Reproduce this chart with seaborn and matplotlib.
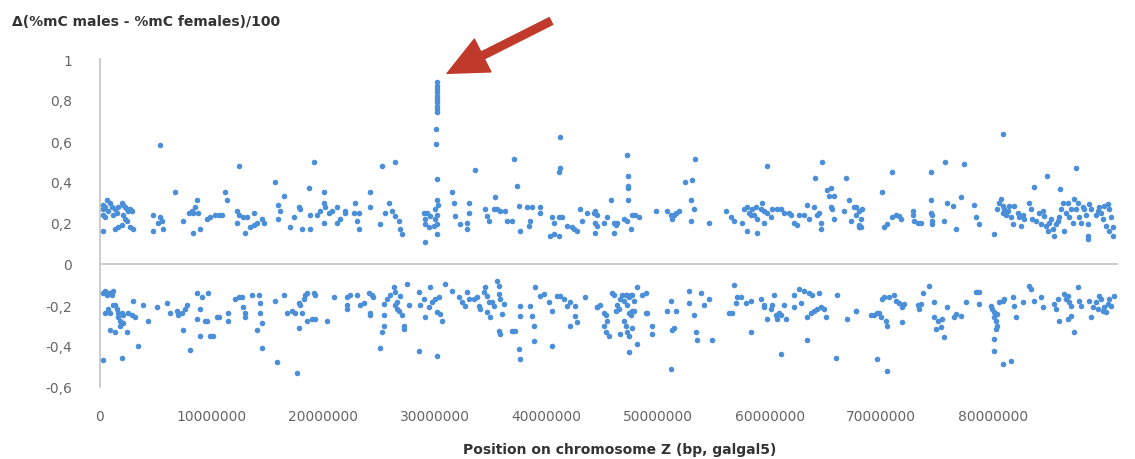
import numpy as np
import pandas as pd
import matplotlib
matplotlib.use("Agg")
import matplotlib.pyplot as plt
import seaborn as sns

# positions in Mb (converted to bp below) and delta methylation (males - females)/100
# hypermethylated in males
pos_up = [
    0.31, 0.31, 0.45, 0.61, 0.31, 0.45, 0.75, 0.90, 1.05, 1.20, 1.35, 1.50, 1.65, 1.95, 2.09, 2.25,
    2.40, 2.54, 2.70, 2.09, 2.25, 2.40, 0.31, 1.35, 1.65, 1.95, 2.70, 3.00, 2.84, 4.79, 4.79, 5.39,
    5.54, 5.23, 5.68, 5.39, 6.73, 7.48, 7.93, 8.23, 8.37, 8.67, 8.82, 8.52, 8.37, 8.98, 9.57, 9.87,
    10.32, 10.62, 10.91, 11.21, 11.37, 12.26, 12.41, 12.26, 12.41, 12.85, 13.16, 13.76, 13.01, 13.46,
    13.76, 14.05, 14.50, 14.65, 15.69, 15.99, 16.15, 15.99, 16.44, 17.04, 17.35, 17.79, 17.94, 18.08,
    18.69, 18.83, 18.83, 19.13, 19.44, 19.74, 20.03, 20.03, 20.03, 20.18, 20.48, 20.78, 21.22, 21.22,
    21.53, 21.97,
    30.19, 30.19, 30.19, 30.19, 30.19, 30.19, 30.19, 30.19, 30.19, 30.19, 30.13, 30.13, 30.19, 30.19,
    30.24, 30.03, 30.19, 30.03, 30.19, 30.19, 29.29, 29.00, 29.14, 29.14, 29.44, 29.14, 29.59, 29.89,
    21.97, 22.72, 22.86, 23.16, 23.02, 23.16, 24.21, 24.21, 25.25, 26.45, 25.11, 25.55, 25.86, 26.16,
    26.45, 26.75, 26.90, 27.05, 31.53, 31.68, 31.83, 32.28, 33.03, 33.03, 32.87, 32.87, 33.62, 34.53,
    34.67, 34.82, 35.26, 35.42, 35.57, 35.87, 36.31, 36.46, 36.92, 37.06, 37.36, 37.51, 37.66, 38.26,
    38.40, 38.56, 38.71, 39.45, 39.45, 40.49, 40.65, 40.65, 40.35, 41.10, 41.10, 41.40, 41.85, 42.29,
    42.44, 42.74, 43.04, 43.19, 43.63, 44.38, 44.54, 41.24, 41.24, 41.10,
    44.24, 44.39, 44.39, 44.54, 45.14, 45.44, 45.74, 46.03, 46.19, 46.03, 46.33, 46.93, 47.23, 47.53,
    47.68, 47.97, 48.28, 47.23, 47.29, 47.29, 47.29, 47.29, 49.77, 50.81, 51.11, 51.27, 51.42, 51.56,
    51.86, 52.45, 53.06, 53.29, 52.91, 53.20, 52.91, 54.55, 56.04, 56.50, 56.79, 57.54, 57.69, 57.99,
    58.14, 58.29, 58.43, 58.59, 58.73, 58.89, 59.18, 59.34, 59.48, 59.48, 59.78, 60.09, 60.23, 60.68,
    60.98, 61.28, 61.73, 61.87, 62.18, 62.48, 62.62, 63.07, 63.37, 63.52, 63.96, 64.27, 64.41, 64.57,
    64.57, 57.99, 58.89, 59.78, 64.03, 64.71, 65.16, 65.32, 65.46, 65.46, 65.62, 65.76, 66.66, 66.80,
    67.10, 67.26, 67.71, 68.01, 65.76,
    67.55, 67.71, 68.01, 68.30, 68.15, 68.01, 68.15, 70.10, 70.24, 70.55, 70.99, 71.29, 71.60, 71.74,
    72.79, 72.79, 72.94, 73.24, 73.53, 70.99, 74.43, 74.43, 74.43, 74.58, 74.58, 74.58, 75.63, 75.71,
    75.92, 76.38, 76.67, 77.12, 77.42, 78.31, 78.47, 78.77, 80.11, 80.40, 80.56, 80.70, 80.86, 80.86,
    81.00, 81.15, 81.31, 81.45, 81.61, 81.75, 81.90, 82.20, 82.36, 82.50, 82.65, 82.80, 83.25, 83.40,
    83.54, 83.70, 83.84, 84.14, 84.29, 84.45, 84.59, 84.75, 84.89, 85.04, 85.19, 85.34, 85.49, 85.64,
    85.79, 85.93, 86.09, 86.23, 86.39, 86.54, 86.68, 86.84, 86.98, 87.13, 87.28, 87.43, 87.59, 87.73,
    87.88, 88.03, 88.18, 88.32, 88.48, 88.48, 88.48, 88.63, 88.78, 89.23, 89.37, 89.52, 89.67, 89.82,
    89.98, 90.12, 90.27, 90.42, 90.42, 90.57, 90.72, 90.72, 80.86, 84.83, 86.02, 87.43,
]
delta_up = [
    0.27, 0.29, 0.28, 0.31, 0.24, 0.23, 0.26, 0.30, 0.28, 0.24, 0.27, 0.25, 0.28, 0.30, 0.29, 0.28,
    0.27, 0.26, 0.27, 0.24, 0.22, 0.21, 0.16, 0.17, 0.18, 0.19, 0.18, 0.17, 0.26, 0.16, 0.24, 0.23,
    0.21, 0.20, 0.17, 0.58, 0.35, 0.21, 0.25, 0.26, 0.25, 0.31, 0.25, 0.28, 0.15, 0.17, 0.22, 0.23,
    0.24, 0.24, 0.24, 0.35, 0.31, 0.26, 0.48, 0.20, 0.24, 0.23, 0.23, 0.25, 0.15, 0.18,
    0.19, 0.20, 0.22, 0.20, 0.40, 0.29, 0.26, 0.22, 0.33, 0.18, 0.23, 0.28, 0.27, 0.17,
    0.37, 0.17, 0.24, 0.50, 0.24, 0.26, 0.20, 0.35, 0.30, 0.28, 0.25, 0.26, 0.28, 0.20,
    0.22, 0.26,
    0.886, 0.870, 0.854, 0.837, 0.821, 0.805, 0.789, 0.772, 0.756, 0.740, 0.66, 0.585, 0.415, 0.31,
    0.29, 0.27, 0.24, 0.22, 0.195, 0.146, 0.25, 0.25, 0.22, 0.195, 0.18, 0.106, 0.236, 0.187,
    0.25, 0.25, 0.30, 0.25, 0.21, 0.17, 0.35, 0.28, 0.48, 0.50, 0.195, 0.25, 0.30, 0.26,
    0.236, 0.21, 0.17, 0.146, 0.35, 0.30, 0.236, 0.195, 0.30, 0.25, 0.20, 0.17, 0.46, 0.27,
    0.236, 0.21, 0.27, 0.325, 0.27, 0.26, 0.26, 0.21, 0.21, 0.51, 0.38, 0.285, 0.163, 0.276,
    0.187, 0.21, 0.276, 0.276, 0.25, 0.228, 0.20, 0.146, 0.138, 0.138, 0.228, 0.228, 0.187, 0.18,
    0.17, 0.163, 0.27, 0.21, 0.25, 0.26, 0.187, 0.62, 0.47, 0.45,
    0.25, 0.20, 0.15, 0.24, 0.20, 0.23, 0.31, 0.20, 0.19, 0.15, 0.20, 0.22, 0.21, 0.17,
    0.24, 0.24, 0.23, 0.53, 0.43, 0.38, 0.37, 0.31, 0.26, 0.26, 0.24, 0.22, 0.24, 0.25,
    0.26, 0.40, 0.41, 0.51, 0.31, 0.27, 0.21, 0.20, 0.26, 0.23, 0.21, 0.20, 0.27, 0.28,
    0.25, 0.24, 0.27, 0.24, 0.28, 0.22, 0.27, 0.30, 0.26, 0.20, 0.25, 0.23, 0.27, 0.27,
    0.27, 0.25, 0.25, 0.24, 0.20, 0.19, 0.24, 0.24, 0.29, 0.22, 0.28, 0.24, 0.25, 0.20,
    0.17, 0.16, 0.15, 0.48, 0.42, 0.50, 0.36, 0.33, 0.37, 0.28, 0.27, 0.22, 0.26, 0.42,
    0.31, 0.21, 0.28, 0.18, 0.33,
    0.28, 0.24, 0.26, 0.27, 0.22, 0.19, 0.18, 0.35, 0.18, 0.195, 0.23, 0.24, 0.236, 0.22,
    0.26, 0.24, 0.21, 0.20, 0.20, 0.45, 0.45, 0.31, 0.25, 0.24, 0.21, 0.195, 0.21, 0.50,
    0.30, 0.285, 0.17, 0.325, 0.49, 0.29, 0.23, 0.195, 0.146, 0.27, 0.30, 0.317, 0.285, 0.25,
    0.27, 0.24, 0.26, 0.285, 0.23, 0.195, 0.285, 0.25, 0.23, 0.187, 0.24, 0.22, 0.30, 0.27,
    0.22, 0.374, 0.21, 0.25, 0.195, 0.26, 0.236, 0.187, 0.163, 0.20, 0.22, 0.171, 0.138, 0.195,
    0.21, 0.23, 0.27, 0.30, 0.163, 0.25, 0.30, 0.23, 0.27, 0.20, 0.317, 0.27, 0.30, 0.23,
    0.20, 0.276, 0.27, 0.24, 0.195, 0.138, 0.122, 0.293, 0.27, 0.24, 0.26, 0.276, 0.25, 0.22,
    0.285, 0.187, 0.293, 0.27, 0.163, 0.23, 0.18, 0.138, 0.634, 0.428, 0.366, 0.467,
]

# hypermethylated in females
pos_down = [
    0.31, 0.45, 0.61, 0.75, 0.90, 1.05, 1.20, 0.45, 0.75, 0.90, 1.20, 1.35, 1.50, 1.65, 1.65, 1.80,
    1.95, 2.09, 1.80, 1.35, 0.90, 2.09, 2.40, 2.54, 2.84, 3.14, 3.00, 3.44, 1.95, 0.31, 3.89, 4.34,
    5.09, 5.98, 6.28, 6.88, 7.03, 7.32, 7.62, 7.78, 7.48, 8.07, 8.67, 8.98, 9.12, 8.67, 9.42, 9.57,
    9.71, 8.98, 9.87, 10.16, 10.46, 10.62, 11.51, 11.51, 12.10, 12.41, 12.71, 12.85, 13.01, 13.01, 13.60,
    14.20, 14.35, 14.35, 14.50, 14.05, 14.50, 15.69, 15.85, 16.44, 16.74, 17.19, 17.49, 17.79, 17.79,
    17.94, 18.08, 18.24, 18.39, 18.53, 19.13, 19.28, 18.99, 18.53, 19.28, 17.64, 20.33, 20.92, 22.13,
    22.13,
    22.11, 22.41, 23.02, 23.31, 23.61, 24.06, 24.36, 24.50, 24.21, 24.21, 25.11, 25.25, 25.41, 25.41,
    25.41, 25.70, 26.00, 26.30, 26.45, 26.45, 26.60, 26.75, 26.60, 26.90, 27.05, 27.20, 27.20, 27.50,
    27.64, 28.55, 28.69, 28.55, 29.00, 29.14, 29.44, 29.59, 29.74, 30.03, 30.34, 30.19, 30.48, 30.64,
    30.19, 30.94, 31.53, 32.13, 32.43, 32.73, 32.87, 33.03, 33.48, 33.78, 33.92, 34.07, 34.37, 34.53,
    34.67, 34.82, 34.67, 34.97, 35.12, 35.26, 35.57, 35.71, 35.71, 35.87, 36.17, 36.01, 35.71, 35.87,
    36.92, 37.21, 37.66, 37.66, 37.51, 37.66, 38.56, 38.71, 38.85, 38.85, 39.01, 39.45, 39.76, 40.20,
    40.49, 40.49, 40.95, 41.24, 41.54, 41.85, 42.15, 42.15, 42.59, 42.59, 42.74, 43.49, 44.54,
    44.54, 44.83, 45.14, 45.29, 45.44, 45.14, 45.29, 45.58, 45.88, 46.03, 46.19, 46.33, 46.49, 46.63,
    46.78, 46.93, 47.08, 47.23, 47.38, 47.53, 47.68, 47.83, 47.23, 47.38, 47.53, 47.68, 47.83, 46.93,
    47.08, 47.23, 47.38, 47.68, 46.63, 47.38, 48.13, 48.13, 48.58, 48.88, 48.88, 49.02, 49.47, 49.47,
    50.81, 51.11, 51.56, 51.27, 51.42, 51.11, 52.76, 52.76, 53.81, 54.11, 54.55, 53.20, 53.36, 53.50,
    54.86, 56.34, 56.64, 56.79, 56.95, 57.09, 57.39, 57.84, 58.29, 58.29, 59.18, 59.48, 59.48, 59.78,
    60.09, 60.23, 60.38, 60.53, 60.68, 60.84, 60.98, 61.28, 61.43, 60.98, 62.18, 62.18, 62.62, 62.77,
    63.07, 63.52, 63.82, 64.41, 63.37, 63.67, 63.96, 64.27, 64.57, 64.87, 65.01, 63.37, 66.06, 65.91,
    66.96, 67.71,
    67.71, 69.05, 69.35, 69.65, 69.80, 69.94, 70.10, 70.24, 70.40, 70.55, 70.69, 71.14, 71.29, 71.60,
    71.89, 72.04, 71.89, 73.24, 73.38, 73.53, 73.69, 74.28, 74.73, 74.73, 75.03, 74.88, 75.33, 75.63,
    75.47, 75.92, 76.52, 76.67, 77.12, 77.56, 78.47, 78.77, 78.77, 79.81, 79.95, 80.11, 80.11, 80.26,
    80.40, 80.26, 80.40, 80.56, 80.86, 81.00, 80.11, 80.11, 80.86, 81.61, 81.75, 81.90, 82.05, 82.65,
    83.25, 83.40, 83.70, 84.29, 84.45, 85.49, 85.64, 85.79, 85.93, 86.39, 86.54, 86.68, 86.84, 86.98,
    86.68, 86.98, 87.28, 87.59, 87.73, 87.88, 88.63, 88.78, 88.93, 89.23, 89.37, 89.52, 89.67, 89.82,
    89.98, 90.12, 90.27, 90.42, 90.57, 90.87, 69.65, 70.55,
]
delta_down = [
    -0.14, -0.13, -0.15, -0.14, -0.14, -0.15, -0.13, -0.24, -0.22, -0.24, -0.20, -0.20, -0.22, -0.24, -0.26, -0.28,
    -0.24, -0.25, -0.30, -0.33, -0.32, -0.29, -0.33, -0.24, -0.25, -0.26, -0.18, -0.40, -0.46, -0.47, -0.20, -0.28,
    -0.21, -0.19, -0.24, -0.23, -0.25, -0.24, -0.22, -0.20, -0.32, -0.42, -0.14, -0.22, -0.16, -0.27, -0.28, -0.28,
    -0.14, -0.35, -0.35, -0.35, -0.26, -0.26, -0.24, -0.28, -0.17, -0.16, -0.16, -0.21, -0.24, -0.26, -0.15,
    -0.15, -0.19, -0.24, -0.29, -0.32, -0.41, -0.18, -0.48, -0.15, -0.24, -0.23, -0.24, -0.31, -0.19,
    -0.20, -0.24, -0.17, -0.15, -0.14, -0.14, -0.15, -0.27, -0.28, -0.27, -0.53, -0.28, -0.16, -0.16,
    -0.22,
    -0.20, -0.15, -0.15, -0.20, -0.19, -0.14, -0.15, -0.16, -0.24, -0.25, -0.41, -0.33, -0.30, -0.25,
    -0.195, -0.17, -0.15, -0.114, -0.138, -0.20, -0.22, -0.228, -0.187, -0.154, -0.25, -0.30, -0.317, -0.098,
    -0.20, -0.138, -0.20, -0.423, -0.171, -0.26, -0.21, -0.114, -0.187, -0.171, -0.163, -0.236, -0.244, -0.276,
    -0.447, -0.098, -0.13, -0.163, -0.187, -0.203, -0.138, -0.171, -0.171, -0.163, -0.203, -0.22, -0.138, -0.114,
    -0.154, -0.187, -0.236, -0.26, -0.187, -0.203, -0.081, -0.106, -0.146, -0.171, -0.195, -0.244, -0.325, -0.341,
    -0.325, -0.325, -0.203, -0.252, -0.415, -0.463, -0.203, -0.252, -0.301, -0.374, -0.114, -0.154, -0.146, -0.187,
    -0.228, -0.398, -0.154, -0.154, -0.171, -0.203, -0.187, -0.301, -0.203, -0.252, -0.285, -0.163, -0.211,
    -0.21, -0.20, -0.24, -0.25, -0.28, -0.30, -0.33, -0.35, -0.14, -0.15, -0.23, -0.20, -0.22, -0.17,
    -0.15, -0.18, -0.15, -0.15, -0.16, -0.15, -0.15, -0.18, -0.20, -0.24, -0.25, -0.23, -0.23, -0.28,
    -0.30, -0.33, -0.35, -0.31, -0.34, -0.43, -0.39, -0.11, -0.15, -0.14, -0.24, -0.24, -0.30, -0.34,
    -0.23, -0.18, -0.23, -0.32, -0.31, -0.51, -0.13, -0.19, -0.14, -0.20, -0.17, -0.25, -0.33, -0.37,
    -0.37, -0.24, -0.24, -0.10, -0.19, -0.16, -0.16, -0.19, -0.18, -0.33, -0.17, -0.20, -0.21, -0.27,
    -0.22, -0.20, -0.15, -0.25, -0.27, -0.24, -0.25, -0.20, -0.27, -0.44, -0.21, -0.15, -0.12, -0.19,
    -0.13, -0.14, -0.15, -0.14, -0.26, -0.24, -0.23, -0.22, -0.21, -0.22, -0.26, -0.37, -0.15, -0.46,
    -0.27, -0.23,
    -0.23, -0.25, -0.25, -0.24, -0.24, -0.26, -0.17, -0.16, -0.28, -0.30, -0.16, -0.15, -0.18, -0.19,
    -0.21, -0.195, -0.285, -0.20, -0.22, -0.195, -0.14, -0.106, -0.187, -0.26, -0.276, -0.317, -0.309, -0.358,
    -0.268, -0.211, -0.26, -0.244, -0.252, -0.187, -0.138, -0.138, -0.195, -0.203, -0.22, -0.236, -0.26, -0.276,
    -0.301, -0.317, -0.244, -0.187, -0.179, -0.171, -0.366, -0.423, -0.488, -0.472, -0.163, -0.203, -0.26, -0.187,
    -0.106, -0.122, -0.179, -0.163, -0.211, -0.195, -0.22, -0.171, -0.276, -0.146, -0.171, -0.154, -0.187, -0.203,
    -0.268, -0.252, -0.333, -0.114, -0.179, -0.203, -0.179, -0.26, -0.211, -0.187, -0.22, -0.154, -0.171, -0.228,
    -0.211, -0.236, -0.195, -0.171, -0.203, -0.154, -0.463, -0.52,
]

x_ticks = [0, 10000000, 20000000, 30000000, 40000000, 50000000, 60000000, 70000000, 80000000]
y_ticks = [-0.6, -0.4, -0.2, 0, 0.2, 0.4, 0.6, 0.8, 1]
y_tick_labels = ["-0,6", "-0,4", "-0,2", "0", "0,2", "0,4", "0,6", "0,8", "1"]

df = pd.DataFrame({
    "pos": np.array(pos_up + pos_down) * 1e6,
    "delta": delta_up + delta_down,
})

sns.set_theme(style="white")
plt.rcParams["font.family"] = ["DejaVu Sans"]

fig = plt.figure(figsize=(11.35, 4.6), dpi=100)
ax = fig.add_axes([100 / 1135, 72 / 460, 1018 / 1135, 328 / 460])

sns.scatterplot(data=df, x="pos", y="delta", ax=ax, color="#4a8fd8",
                s=16, linewidth=0, zorder=3)

ax.axhline(0, color="#c8c8c8", lw=1.3, zorder=1)
ax.set_xlim(0, 91.2e6)
ax.set_ylim(-0.6, 1)
ax.set_xticks(x_ticks)
ax.set_xticklabels([str(t) for t in x_ticks])
ax.set_yticks(y_ticks)
ax.set_yticklabels(y_tick_labels)
ax.tick_params(axis="both", length=0, labelsize=10, labelcolor="#666666")
ax.tick_params(axis="x", pad=16)
ax.tick_params(axis="y", pad=20)

for side in ["top", "right", "bottom"]:
    ax.spines[side].set_visible(False)
ax.spines["left"].set_color("#c8c8c8")
ax.spines["left"].set_linewidth(1.3)

ax.set_xlabel("")
ax.set_ylabel("")
fig.text(620 / 1135, 1 - 450 / 460, "Position on chromosome Z (bp, galgal5)",
         ha="center", va="center", fontsize=10, color="#333333", fontweight="semibold")
fig.text(12 / 1135, 1 - 22 / 460, "Δ(%mC males - %mC females)/100",
         ha="left", va="center", fontsize=10, color="#333333", fontweight="semibold")

# arrow pointing at the peak
arrow_tip = (31.1e6, 0.93)
arrow_tail = (40.4e6, 1.185)
ax.annotate("", xy=arrow_tip, xytext=arrow_tail, annotation_clip=False,
            arrowprops=dict(arrowstyle="simple,head_length=1.3,head_width=1.2,tail_width=0.25",
                            color="#c0392b", mutation_scale=22, shrinkA=0, shrinkB=0))

fig.savefig("out.png", dpi=100)
